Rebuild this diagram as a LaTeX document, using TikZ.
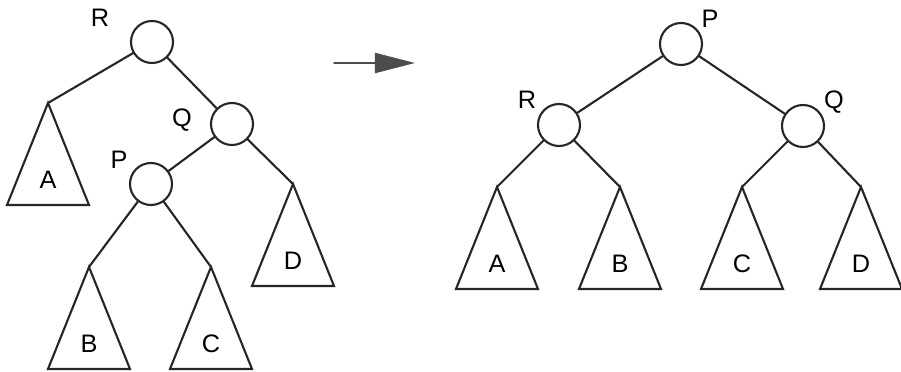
\documentclass[tikz,border=0pt]{standalone}
\usepackage{fontspec}
\setmainfont{Liberation Sans}
\usetikzlibrary{arrows.meta}

\begin{document}
\begin{tikzpicture}[x=0.025cm, y=-0.025cm, line cap=round,
    linea/.style={line width=1.5pt, black!85},
    nudo/.style={circle, draw=black!85, line width=1.5pt, minimum size=1.05cm, inner sep=0pt},
    letra/.style={font=\fontsize{18}{21}\selectfont, inner sep=1pt}]
    \useasboundingbox (0,0) rectangle (901,372);
    % --- arbol antes de la rotacion
    \node[nudo] (iR) at (152,42)  {};
    \node[nudo] (iQ) at (232,124) {};
    \node[nudo] (iP) at (151,184) {};
    \node[letra] (iRtxt) at (100,18)  {R};
    \node[letra] (iQtxt) at (182,120) {Q};
    \node[letra] (iPtxt) at (119,160) {P};
    % --- arbol despues de la rotacion
    \node[nudo] (dP) at (681,44)  {};
    \node[nudo] (dR) at (559,125) {};
    \node[nudo] (dQ) at (803,126) {};
    \node[letra] (dPtxt) at (710,19)  {P};
    \node[letra] (dRtxt) at (527,100) {R};
    \node[letra] (dQtxt) at (834,102) {Q};
    % --- subarboles: un triangulo colgado de su vertice
    \foreach \nm/\x/\y/\txt in {iA/48/103/A, iB/89/267/B, iC/211/267/C, iD/293/184/D,
                                dA/497/187/A, dB/620/187/B, dC/742/187/C, dD/861/187/D} {
      \coordinate (\nm) at (\x,\y);
      \draw[linea, line join=miter] (\nm) -- ++(-41,102) -- ++(82,0) -- cycle;
      \node[letra] (\nm txt) at (\x,{\y+77}) {\txt};
    }
    % --- aristas
    \draw[linea] (iR) -- (iA);
    \draw[linea] (iR) -- (iQ);
    \draw[linea] (iQ) -- (iP);
    \draw[linea] (iQ) -- (iD);
    \draw[linea] (iP) -- (iB);
    \draw[linea] (iP) -- (iC);
    \draw[linea] (dP) -- (dR);
    \draw[linea] (dP) -- (dQ);
    \draw[linea] (dR) -- (dA);
    \draw[linea] (dR) -- (dB);
    \draw[linea] (dQ) -- (dC);
    \draw[linea] (dQ) -- (dD);
    % --- flecha entre los dos arboles
    \coordinate (fIni) at (334,63);
    \coordinate (fFin) at (415,63);
    \draw[-{Triangle[length=1cm, width=0.5cm]}, line width=1.4pt, black!70]
         (fIni) -- (fFin);
\end{tikzpicture}
\end{document}
